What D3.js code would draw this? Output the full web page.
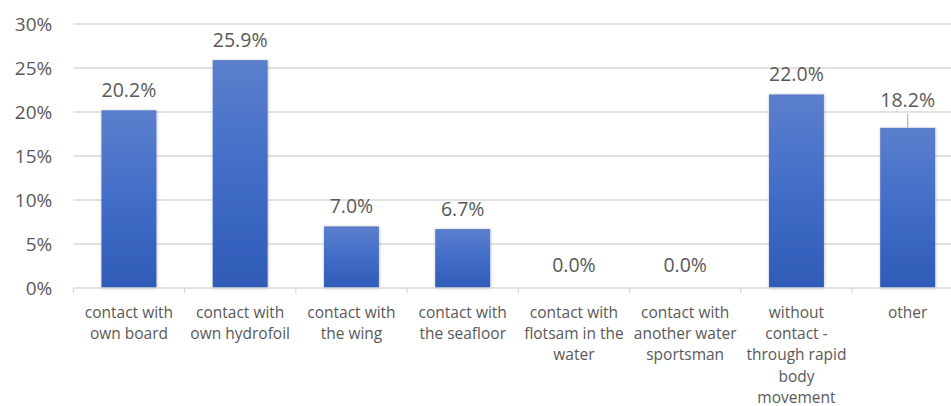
<!DOCTYPE html>
<html><head><meta charset="utf-8">
<script src="https://cdn.jsdelivr.net/npm/d3@7"></script>
<style>body{margin:0;background:#fff;}svg{display:block;}</style>
</head><body>
<svg id="c" width="951" height="406"></svg>
<script>
const categories = [
  ["contact with","own board"],
  ["contact with","own hydrofoil"],
  ["contact with","the wing"],
  ["contact with","the seafloor"],
  ["contact with","flotsam in the","water"],
  ["contact with","another water","sportsman"],
  ["without","contact -","through rapid","body","movement"],
  ["other"]
];
const values = [20.2, 25.9, 7.0, 6.7, 0.0, 0.0, 22.0, 18.2];
const yTicks = [0, 5, 10, 15, 20, 25, 30];

const svg = d3.select("#c");
const font = "'Open Sans', sans-serif";
const textColor = "#595959";
const mLeft = 73.3, mRight = 963.3, mTop = 24, mBottom = 288;
const ids = d3.range(values.length);
const x = d3.scaleBand().domain(ids).range([mLeft, mRight]).paddingInner(0.506).paddingOuter(0.253);
const y = d3.scaleLinear().domain([0, 30]).range([mBottom, mTop]);

const defs = svg.append("defs");
const g = defs.append("linearGradient").attr("id","bg").attr("x1",0).attr("y1",0).attr("x2",0).attr("y2",1);
g.append("stop").attr("offset","0%").attr("stop-color","#5b7fcc");
g.append("stop").attr("offset","50%").attr("stop-color","#416dc8");
g.append("stop").attr("offset","100%").attr("stop-color","#2e5bb7");
const f = defs.append("filter").attr("id","sh").attr("x","-20%").attr("y","-10%").attr("width","140%").attr("height","120%");
f.append("feDropShadow").attr("dx",0.5).attr("dy",0.5).attr("stdDeviation",1.5).attr("flood-color","#000").attr("flood-opacity",0.25);

// gridlines
svg.append("g").selectAll("line").data(yTicks.filter(t=>t>0)).join("line")
  .attr("x1", mLeft).attr("x2", 951)
  .attr("y1", d=>y(d)).attr("y2", d=>y(d))
  .attr("stroke","#d9d9d9").attr("stroke-width",1.3);

// y axis labels
const yAxis = d3.axisLeft(y).tickValues(yTicks).tickFormat(d=>d+"%").tickSize(0).tickPadding(21);
const ya = svg.append("g").attr("transform",`translate(${mLeft},0)`).call(yAxis);
ya.select(".domain").remove();
ya.selectAll("text").attr("font-family",font).attr("font-size",19).attr("fill",textColor);

// bars
svg.append("g").selectAll("rect").data(values).join("rect")
  .attr("x",(d,i)=>x(i)).attr("width",x.bandwidth())
  .attr("y",d=>y(d)).attr("height",d=>y(0)-y(d))
  .attr("fill","url(#bg)").attr("filter","url(#sh)");

// x axis line and ticks
svg.append("line").attr("x1",mLeft).attr("x2",951).attr("y1",mBottom).attr("y2",mBottom)
  .attr("stroke","#d9d9d9").attr("stroke-width",1.3);
const step = x.step();
svg.append("g").selectAll("line").data(d3.range(values.length+1)).join("line")
  .attr("x1",i=>mLeft+i*step).attr("x2",i=>mLeft+i*step)
  .attr("y1",mBottom).attr("y2",mBottom+5)
  .attr("stroke","#d9d9d9").attr("stroke-width",1.3);

// category labels
const cl = svg.append("g").selectAll("text").data(categories).join("text")
  .attr("font-family",font).attr("font-size",15.5).attr("fill",textColor)
  .attr("text-anchor","middle")
  .attr("transform",(d,i)=>`translate(${x(i)+x.bandwidth()/2},317.5)`);
cl.selectAll("tspan").data(d=>d).join("tspan").attr("x",0).attr("y",(d,j)=>j*21.4).text(d=>d);

// data labels
const lift = (d,i)=> i===values.length-1 ? 21 : (d===0 ? 16.5 : 13.5);
svg.append("g").selectAll("text").data(values).join("text")
  .attr("x",(d,i)=>x(i)+x.bandwidth()/2)
  .attr("y",(d,i)=>y(d)-lift(d,i))
  .attr("text-anchor","middle").attr("font-family",font).attr("font-size",19.5).attr("fill",textColor)
  .text(d=>d.toFixed(1)+"%");
// leader line for last label
const li = values.length-1;
svg.append("line")
  .attr("x1",x(li)+x.bandwidth()/2).attr("x2",x(li)+x.bandwidth()/2)
  .attr("y1",y(values[li])-14).attr("y2",y(values[li]))
  .attr("stroke","#a6a6a6").attr("stroke-width",1);
</script>
</body></html>
